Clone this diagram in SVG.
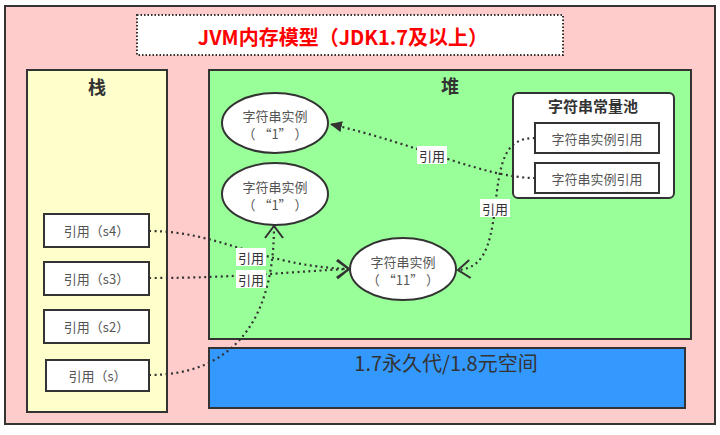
<svg xmlns="http://www.w3.org/2000/svg" width="720" height="435" viewBox="0 0 720 435">
<defs>
<style>
text{font-family:"Noto Sans CJK SC","Noto Sans",sans-serif;}
.box{stroke:#333;stroke-width:2;}
.lbl{font-size:13px;fill:#555;text-anchor:middle;dominant-baseline:central;}
.hd{font-size:18px;font-weight:bold;fill:#333;text-anchor:middle;dominant-baseline:central;}
.conn{fill:none;stroke:#333;stroke-width:2.2;stroke-dasharray:2 3.5;}
.cl{font-size:13px;fill:#333;text-anchor:middle;dominant-baseline:central;}
</style>
<marker id="open" markerUnits="userSpaceOnUse" markerWidth="16" markerHeight="22" refX="13" refY="10" orient="auto">
<path d="M1,1 L13,10 L1,19" fill="none" stroke="#333" stroke-width="2"/>
</marker>
<marker id="fill" markerUnits="userSpaceOnUse" markerWidth="14" markerHeight="12" refX="12" refY="6" orient="auto">
<path d="M0,0.5 L12,6 L0,11.5 Z" fill="#333"/>
</marker>
</defs>
<rect x="0" y="0" width="720" height="435" fill="#fff"/>
<g id="outer">
<rect x="5" y="6" width="710" height="418" fill="#FFCCCC" stroke="#333" stroke-width="2"/>
</g>
<g id="title">
<rect x="137" y="15" width="426" height="40" fill="#fff" stroke="#333" stroke-width="2" stroke-dasharray="1.5 2"/>
<text x="343" y="36" font-size="20" font-weight="bold" fill="#FF0000" text-anchor="middle" dominant-baseline="central">JVM内存模型（JDK1.7及以上）</text>
</g>
<g id="stack">
<rect class="box" x="27" y="70" width="140" height="342" fill="#FFFFCC"/>
<text class="hd" x="97" y="86">栈</text>
</g>
<g id="heap">
<rect class="box" x="209" y="70" width="482" height="269" fill="#99FF99"/>
<text class="hd" x="450" y="85">堆</text>
</g>
<g id="meta">
<rect class="box" x="209" y="348" width="476" height="60" fill="#3399FF"/>
<text x="446" y="362" font-size="20" fill="#333" text-anchor="middle" dominant-baseline="central">1.7永久代/1.8元空间</text>
</g>
<g id="ref-s4">
<rect class="box" x="44" y="214" width="105" height="33" fill="#fff"/>
<text class="lbl" x="96.5" y="230.5">引用（s4）</text>
</g>
<g id="ref-s3">
<rect class="box" x="44" y="262" width="105" height="33" fill="#fff"/>
<text class="lbl" x="96.5" y="278.5">引用（s3）</text>
</g>
<g id="ref-s2">
<rect class="box" x="44" y="310" width="105" height="33" fill="#fff"/>
<text class="lbl" x="96.5" y="326.5">引用（s2）</text>
</g>
<g id="ref-s">
<rect class="box" x="46" y="360" width="103" height="31" fill="#fff"/>
<text class="lbl" x="97.5" y="375.5">引用（s）</text>
</g>
<g id="inst1a">
<ellipse class="box" cx="275" cy="123" rx="53" ry="30" fill="#fff"/>
<text class="lbl" x="275" y="115">字符串实例</text>
<text class="lbl" x="275" y="133">（ “1” ）</text>
</g>
<g id="inst1b">
<ellipse class="box" cx="275" cy="194" rx="53" ry="31" fill="#fff"/>
<text class="lbl" x="275" y="186">字符串实例</text>
<text class="lbl" x="275" y="204">（ “1” ）</text>
</g>
<g id="inst11">
<ellipse class="box" cx="403" cy="269" rx="53" ry="31" fill="#fff"/>
<text class="lbl" x="403" y="261">字符串实例</text>
<text class="lbl" x="403" y="279">（ “11” ）</text>
</g>
<g id="pool">
<rect class="box" x="513" y="93" width="161" height="105" rx="5" fill="#fff"/>
<text x="593" y="105" font-size="15" font-weight="bold" fill="#333" text-anchor="middle" dominant-baseline="central">字符串常量池</text>
</g>
<g id="pool-ref1">
<rect class="box" x="535" y="123" width="124" height="30" fill="#fff"/>
<text class="lbl" x="597" y="138">字符串实例引用</text>
</g>
<g id="pool-ref2">
<rect class="box" x="535" y="163" width="124" height="30" fill="#fff"/>
<text class="lbl" x="597" y="178">字符串实例引用</text>
</g>
<g id="connectors">
<path class="conn" d="M535,178 C485,178 420,145 330,124" marker-end="url(#fill)"/>
<path class="conn" d="M535,138 C505,138 500,160 495,208 C490,250 482,268 458,270" marker-end="url(#open)"/>
<path class="conn" d="M149,231 C220,231 260,266 349,269" marker-end="url(#open)"/>
<path class="conn" d="M149,278 C240,278 300,271 349,269" marker-end="url(#open)"/>
<path class="conn" d="M149,375 C225,375 274,330 274,226" marker-end="url(#open)"/>
<rect x="417" y="146" width="30" height="18" fill="#fff"/>
<text class="cl" x="432" y="155">引用</text>
<rect x="480" y="199" width="30" height="18" fill="#fff"/>
<text class="cl" x="495" y="208">引用</text>
<rect x="236" y="248" width="30" height="18" fill="#fff"/>
<text class="cl" x="251" y="257">引用</text>
<rect x="236" y="270" width="30" height="18" fill="#fff"/>
<text class="cl" x="251" y="279">引用</text>
</g>
</svg>
